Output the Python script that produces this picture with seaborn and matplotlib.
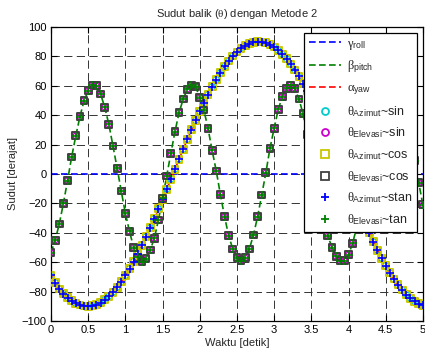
import numpy as np
import pandas as pd
import matplotlib
matplotlib.use('Agg')
import matplotlib.pyplot as plt
import seaborn as sns
from matplotlib.lines import Line2D
from matplotlib.ticker import FuncFormatter

# time samples (s)
waktu = np.linspace(0, 5, 91)

# theta azimuth (deg)
azimut = [-69.0, -73.8, -78.2, -81.4, -84.0, -86.2, -87.9, -89.1, -89.8, -90.0,
          -89.6, -88.8, -87.4, -85.5, -83.1, -80.3, -77.0, -73.2, -69.0, -64.4,
          -59.5, -54.2, -48.6, -42.7, -36.6, -30.3, -23.7, -17.1, -10.4, -3.5,
          3.3, 10.1, 16.8, 23.5, 30.0, 36.4, 42.5, 48.4, 54.0, 59.3,
          64.2, 68.8, 73.1, 76.8, 80.2, 83.0, 85.4, 87.3, 88.7, 89.6,
          90.0, 89.8, 89.2, 88.0, 86.3, 84.1, 81.5, 78.3, 74.8, 70.7,
          66.3, 61.5, 56.4, 50.9, 45.1, 39.1, 32.8, 26.4, 19.8, 13.1,
          6.3, -0.6, -7.4, -14.2, -20.9, -27.4, -33.9, -40.1, -46.1, -51.8,
          -57.2, -62.3, -67.1, -71.4, -75.4, -78.9, -82.0, -84.5, -86.6, -88.2,
          -89.3]

# theta elevation (deg)
elevasi = [-53.5, -45, -34, -20, -4.5, 11.6, 25.9, 39, 49.9, 56.5,
           60.5, 59.9, 54.4, 45.4, 33.8, 19, 4, -11.6, -26.8, -39,
           -50, -56.7, -59.5, -57.5, -51.7, -43.8, -31.3, -16.5, -1.4, 14,
           28.8, 41.7, 51, 57.6, 60.5, 59.4, 52, 43.5, 31, 16,
           2, -14, -29, -42, -51, -57, -59, -57, -51, -41.5,
           -29, -14.3, 0.9, 17.5, 31, 44, 52.6, 58.3, 60.5, 58.3,
           51, 41, 27, 12, -3, -18, -31, -42, -50, -56, -59,
           -59, -55, -47, -36, -23, -8, 8, 23, 37, 48,
           56, 60, 60.5, 56.5, 49, 38, 24, 9, -6, -21]

# roll stays at zero
roll = [0.0] * len(waktu)

df = pd.DataFrame({'waktu': waktu, 'azimut': azimut, 'elevasi': elevasi, 'roll': roll})

sns.set_theme(style='ticks')
plt.rcParams['font.family'] = ['Liberation Sans', 'DejaVu Sans']
plt.rcParams['mathtext.fontset'] = 'custom'
plt.rcParams['mathtext.rm'] = 'Liberation Sans'
plt.rcParams['mathtext.it'] = 'Liberation Serif'
plt.rcParams['mathtext.bf'] = 'Liberation Sans:bold'

fig, ax = plt.subplots(figsize=(4.25, 3.54), dpi=100)
fig.subplots_adjust(left=0.12, right=0.995, bottom=0.093, top=0.924)

dash = (0, (4, 2))
blue, green, red = '#0000ff', '#008000', '#ff0000'
cyan, magenta, yellow, dark = '#00cccc', '#cc00cc', '#c8c800', '#404040'

sns.lineplot(data=df, x='waktu', y='roll', color=blue, lw=1.2, ls=dash, estimator=None, ax=ax, zorder=2)
sns.lineplot(data=df, x='waktu', y='elevasi', color=green, lw=1.2, ls=dash, estimator=None, ax=ax, zorder=2)
sns.lineplot(data=df, x='waktu', y='azimut', color=red, lw=1.2, ls=dash, estimator=None, ax=ax, zorder=2)

sns.scatterplot(data=df, x='waktu', y='azimut', marker='o', s=20, color=cyan, facecolor='none',
                edgecolor=cyan, linewidth=1.0, ax=ax, zorder=3)
sns.scatterplot(data=df, x='waktu', y='elevasi', marker='o', s=16, color=magenta, facecolor='none',
                edgecolor=magenta, linewidth=1.0, ax=ax, zorder=3)
sns.scatterplot(data=df, x='waktu', y='azimut', marker='s', s=24, color=yellow, facecolor='none',
                edgecolor=yellow, linewidth=1.4, ax=ax, zorder=4)
sns.scatterplot(data=df, x='waktu', y='elevasi', marker='s', s=24, color=dark, facecolor='none',
                edgecolor=dark, linewidth=1.4, ax=ax, zorder=4)
sns.scatterplot(data=df, x='waktu', y='azimut', marker='+', s=28, color=blue, edgecolor=blue,
                linewidth=1.2, ax=ax, zorder=5)
sns.scatterplot(data=df, x='waktu', y='elevasi', marker='+', s=28, color=green, edgecolor=green,
                linewidth=1.2, ax=ax, zorder=5)

ax.set_xlim(0, 5)
ax.set_ylim(-100, 100)
ax.set_xticks(np.arange(0, 5.01, 0.5))
ax.set_yticks(np.arange(-100, 101, 20))
ax.xaxis.set_major_formatter(FuncFormatter(lambda v, p: '%g' % v))
ax.tick_params(direction='in', top=True, right=True, length=4, width=0.8,
               labelsize=8, pad=3, colors='black')
ax.grid(True, color='#333333', ls=(0, (8.5, 4.5)), lw=0.7)
for sp in ax.spines.values():
    sp.set_color('black')
    sp.set_linewidth(0.9)

ax.set_title(r'Sudut balik ($\theta$) dengan Metode 2', fontsize=8, pad=7)
ax.set_xlabel('Waktu [detik]', fontsize=8, labelpad=2)
ax.set_ylabel('Sudut [derajat]', fontsize=8, labelpad=3)

handles = [
    Line2D([], [], color=blue, ls=dash, lw=1.2, label=r'$\gamma_{\mathrm{roll}}$'),
    Line2D([], [], color=green, ls=dash, lw=1.2, label=r'$\beta_{\mathrm{pitch}}$'),
    Line2D([], [], color=red, ls=dash, lw=1.2, label=r'$\alpha_{\mathrm{yaw}}$'),
    Line2D([], [], ls='none', marker='o', ms=5, mfc='none', mec=cyan, mew=1.3,
           label=r'$\theta_{\mathrm{Azimut}}$~sin'),
    Line2D([], [], ls='none', marker='o', ms=5, mfc='none', mec=magenta, mew=1.3,
           label=r'$\theta_{\mathrm{Elevasi}}$~sin'),
    Line2D([], [], ls='none', marker='s', ms=5.5, mfc='none', mec=yellow, mew=1.3,
           label=r'$\theta_{\mathrm{Azimut}}$~cos'),
    Line2D([], [], ls='none', marker='s', ms=5.5, mfc='none', mec=dark, mew=1.3,
           label=r'$\theta_{\mathrm{Elevasi}}$~cos'),
    Line2D([], [], ls='none', marker='+', ms=6, mec=blue, mew=1.3,
           label=r'$\theta_{\mathrm{Azimut}}$~stan'),
    Line2D([], [], ls='none', marker='+', ms=6, mec=green, mew=1.3,
           label=r'$\theta_{\mathrm{Elevasi}}$~tan'),
]
leg = ax.legend(handles=handles, loc='upper right', bbox_to_anchor=(0.984, 0.98),
                borderaxespad=0, frameon=True, fancybox=False, edgecolor='black',
                framealpha=1, fontsize=9, handlelength=2.6, handletextpad=0.45,
                labelspacing=0.55, borderpad=0.4)
leg.get_frame().set_linewidth(0.9)
leg.set_zorder(10)

fig.savefig('out.png', dpi=100)
